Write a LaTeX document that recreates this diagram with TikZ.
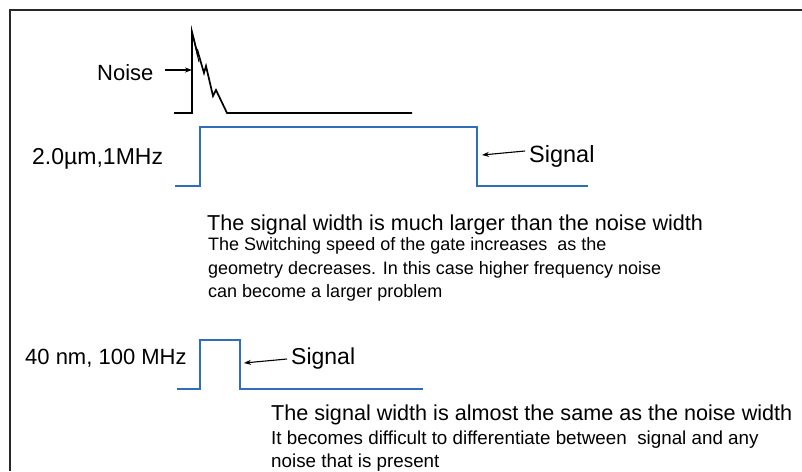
\documentclass[tikz,border=0pt]{standalone}
\usepackage{fontspec}
\setmainfont{Liberation Sans}
\usetikzlibrary{arrows.meta}
\definecolor{sigblue}{RGB}{46,110,186}
\definecolor{framegray}{RGB}{40,40,40}
\tikzset{
  lbl/.style={anchor=base west, inner sep=0pt, font=\fontsize{22}{26}\selectfont},
  siglbl/.style={anchor=base west, inner sep=0pt, font=\fontsize{23.5}{27}\selectfont},
  head/.style={anchor=base west, inner sep=0pt, font=\fontsize{21.6}{25}\selectfont},
  body/.style={anchor=base west, inner sep=0pt, font=\fontsize{18}{22}\selectfont},
  bodyb/.style={anchor=base west, inner sep=0pt, font=\fontsize{18.8}{22}\selectfont},
  wave/.style={draw=sigblue, line width=2.6pt, line join=miter},
  noisewave/.style={draw=black, line width=1.7pt, line join=miter},
  pointer/.style={draw=black, line width=1.1pt, -{Stealth[length=7pt,width=5pt]}},
}
\begin{document}
\begin{tikzpicture}[x=1pt,y=-1pt]
\useasboundingbox (0,0) rectangle (802,471);
\fill[white] (0,0) rectangle (802,471);
% frame
\draw[framegray, line width=2pt] (10,471) -- (10,10) -- (802,10);

% noise waveform
\coordinate (n0) at (174,113);
\coordinate (n1) at (192,113);
\coordinate (n2) at (192,32);
\coordinate (nmid) at (192,70);
\coordinate (n9) at (412,113);
\draw[noisewave] (n0) -- (n1) -- (n2) -- (198,56) -- (197,49) -- (204,73) -- (206,66) -- (213,96) -- (216,90) -- (227,113) -- (n9);
\draw[noisewave, line width=1pt] (193,36) -- (199,62);
\node[lbl] (noiselbl) at (97,80) {Noise};
\draw[pointer] (165,70) coordinate (na) -- (nmid);

% signal 1
\coordinate (s1a) at (175,186);
\coordinate (s1b) at (200,186);
\coordinate (s1c) at (200,127);
\coordinate (s1d) at (477,127);
\coordinate (s1e) at (477,186);
\coordinate (s1f) at (588,186);
\draw[wave] (s1a) -- (s1b) -- (s1c) -- (s1d) -- (s1e) -- (s1f);
\node[lbl, font=\fontsize{23}{27}\selectfont] (freq1) at (32,164) {2.0µm,1MHz};
\node[siglbl] (sig1) at (529,162) {Signal};
\coordinate (s1tip) at (482,155);
\draw[pointer] (525,151) coordinate (s1tail) -- (s1tip);

% text block 1
\node[head] (h1) at (207,230) {The signal width is much larger than the noise width};
\node[body] (b1) at (208,250) {The Switching speed of the gate increases\ \ as the};
\node[body] (b2) at (208,274) {geometry decreases. In this case higher frequency noise};
\node[body] (b3) at (208,297) {can become a larger problem};

% signal 2
\coordinate (s2a) at (177,389);
\coordinate (s2b) at (200,389);
\coordinate (s2c) at (200,340);
\coordinate (s2d) at (240,340);
\coordinate (s2e) at (240,389);
\coordinate (s2f) at (423,389);
\draw[wave] (s2a) -- (s2b) -- (s2c) -- (s2d) -- (s2e) -- (s2f);
\node[lbl] (freq2) at (25,364) {40 nm, 100 MHz};
\node[siglbl, font=\fontsize{23}{27}\selectfont] (sig2) at (291,364) {Signal};
\coordinate (s2tip) at (244,363);
\draw[pointer] (287,359) coordinate (s2tail) -- (s2tip);

% text block 2
\node[head] (h2) at (271,420) {The signal width is almost the same as the noise width};
\node[bodyb] (c1) at (271,444) {It becomes difficult to differentiate between\ \ signal and any};
\node[bodyb] (c2) at (271,467) {noise that is present};
\end{tikzpicture}
\end{document}
